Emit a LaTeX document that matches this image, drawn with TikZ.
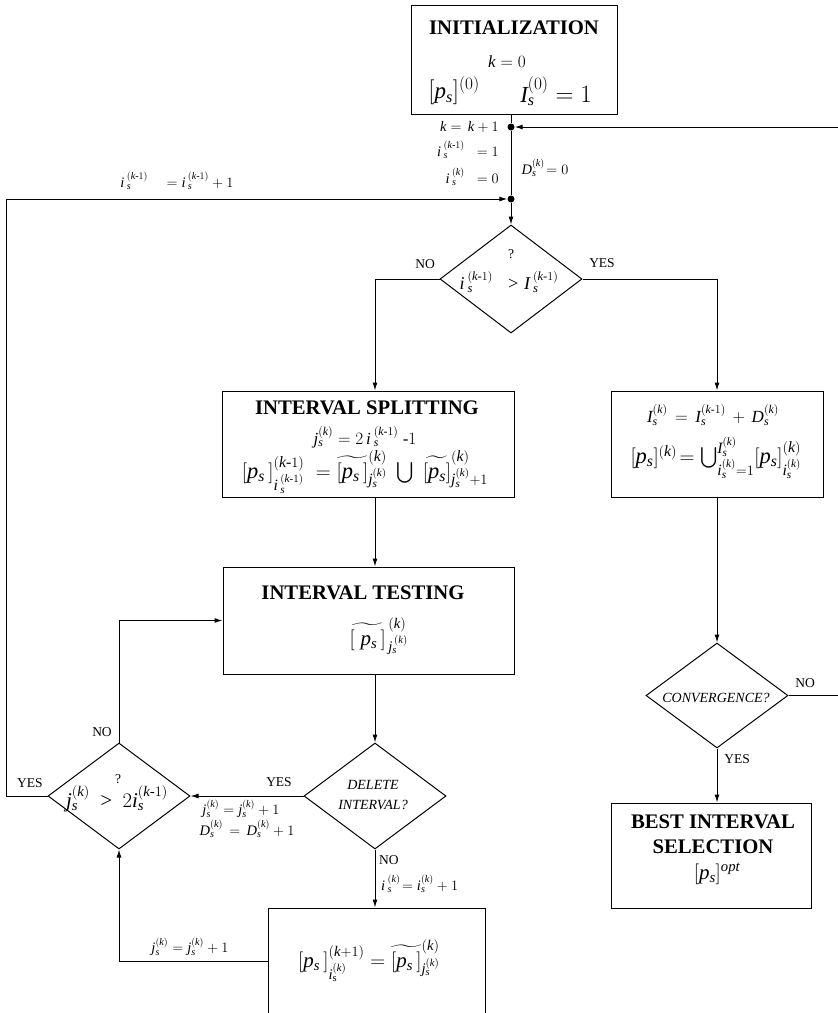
\documentclass[tikz,border=0pt]{standalone}
\usepackage{amsmath}
\usepackage{fontspec}
\setmainfont{Liberation Serif}[NFSSFamily=libser]
\DeclareSymbolFont{letters}{TU}{libser}{m}{it}
\DeclareSymbolFont{operators}{TU}{libser}{m}{n}
\usetikzlibrary{arrows.meta,shapes.geometric}
\newcommand{\km}{(k\text{-}1)}
\begin{document}
\begin{tikzpicture}[x=1pt,y=-1pt,
  box/.style={draw,line width=1pt,inner sep=0pt,rectangle},
  dia/.style={draw,line width=1pt,diamond,inner sep=0pt},
  conn/.style={line width=1pt},
  arr/.style={line width=1pt,-{Latex[length=8pt,width=5pt]}},
  ttl/.style={font=\fontsize{20.7}{25}\selectfont\bfseries,inner sep=0pt,align=center},
  yn/.style={font=\fontsize{13.5}{15}\selectfont,inner sep=0pt},
  lbl/.style={font=\fontsize{14.5}{16}\selectfont,inner sep=0pt},
  fml/.style={font=\fontsize{21}{24}\selectfont,inner sep=0pt},
  fmb/.style={font=\fontsize{22.5}{25}\selectfont,inner sep=0pt},
  fms/.style={font=\fontsize{17}{19}\selectfont,inner sep=0pt},
  itl/.style={font=\fontsize{14}{20}\selectfont\itshape,inner sep=0pt,align=center},
  dot/.style={circle,fill,inner sep=0pt,minimum size=7pt}]
\clip (0,0) rectangle (838,1013);
% boxes
\node[box,minimum width=206pt,minimum height=109pt] (init) at (514,59.5) {};
\node[box,minimum width=292pt,minimum height=106pt] (split) at (368,444) {};
\node[box,minimum width=291pt,minimum height=107pt] (test) at (368.5,620.5) {};
\node[box,minimum width=217pt,minimum height=130pt] (bot) at (376.5,973) {};
\node[box,minimum width=212pt,minimum height=106pt] (rbox) at (717,444) {};
\node[box,minimum width=200pt,minimum height=105pt] (best) at (711,855.5) {};
% diamonds
\node[dia,minimum width=142pt,minimum height=108pt] (q1) at (511,279) {};
\node[dia,minimum width=142pt,minimum height=106pt] (del) at (375,796) {};
\node[dia,minimum width=142pt,minimum height=106pt] (q2) at (119,796) {};
\node[dia,minimum width=142pt,minimum height=105pt] (conv) at (717,695.5) {};
% dots and coordinates
\node[dot] (d1) at (511,127) {};
\node[dot] (d2) at (511,199) {};
\coordinate (colL) at (375,0);
\coordinate (rr) at (860,695.5);
\coordinate (r1) at (860,127);
\coordinate (lx) at (6,0);
% texts
\node[ttl] (tInit) at (514,28) {INITIALIZATION};
\node[fms] (tK0) at (507,62) {$k = 0$};
\node[font=\fontsize{23}{25}\selectfont,inner sep=0pt] (tP0) at (454,91) {$[p_s]^{(0)}$};
\node[font=\fontsize{23}{25}\selectfont,inner sep=0pt] (tI0) at (556,91) {$I_s^{(0)} = 1$};
\node[lbl,anchor=east] (tKK) at (499,127) {$k = \,k + 1$};
\node[lbl,anchor=east] (tIa) at (499,150) {$i\,{}_s^{\km} \;\; = 1$};
\node[lbl,anchor=east] (tIb) at (499,177) {$i\,{}_s^{(k)} \;\; = 0$};
\node[lbl] (tD0) at (545,168) {$D_s^{(k)}\!= 0$};
\node[lbl] (tInc) at (177,181) {$i\,{}_s^{\km} \quad =i\,{}_s^{\km} + 1$};
\node[yn] (tQ1) at (511,254) {?};
\node[font=\fontsize{18}{20}\selectfont,inner sep=0pt] (tC1) at (509,282) {$i\,{}_s^{\km} \;\; > I\,{}_s^{\km}$};
\node[yn] (tNo1) at (425,264) {NO};
\node[yn] (tYes1) at (602,263) {YES};
\node[ttl] (tSplit) at (367,408) {INTERVAL SPLITTING};
\node[fms] (tS2) at (365,437) {$j_s^{(k)} = 2\,i\,{}_s^{\km}\ \text{-}1$};
\node[fmb] (tS3) at (365,472) {$[p_s\,]^{\km}_{i\,{}_s^{\km}} \;=\widetilde{[p_s\,]}^{(k)}_{j_s^{(k)}} \;\textstyle\bigcup\; \widetilde{[p_s]}^{(k)}_{j_s^{(k)}+1}$};
\node[fms] (tR1) at (713,415) {$I_s^{(k)} \,=\, I_s^{(k\text{-}1)} \,+\, D_s^{(k)}$};
\node[fmb] (tR2) at (716,458) {$[p_s]^{(k)}\!= \textstyle\bigcup_{i_s^{(k)}=1}^{I_s^{(k)}}[p_s]^{(k)}_{i_s^{(k)}}$};
\node[ttl] (tTest) at (363,593) {INTERVAL TESTING};
\node[fml] (tT2) at (379,636) {$\widetilde{[\;p_s\,]}^{\,(k)}_{\,j_s^{\,(k)}}$};
\node[itl] (tDel) at (373,795) {DELETE\\INTERVAL?};
\node[yn,anchor=west] (tNo3) at (379,860) {NO};
\node[lbl,anchor=west] (tIi) at (381,884) {$i\,{}_s^{(k)}\!= i_s^{(k)} + 1$};
\node[fml] (tB) at (369,961) {$[p_s\,]^{(k+1)}_{i_{\mathrm{s}}^{(k)}} = \widetilde{[p_s\,]}^{(k)}_{j_s^{(k)}}$};
\node[lbl] (tJj2) at (190,947) {$j_s^{(k)} = j_s^{(k)} + 1$};
\node[yn] (tQ2) at (118,779) {?};
\node[fml] (tC2) at (117,799) {$j_s^{(k)} \,>\, 2i_s^{(k\text{-}1)}$};
\node[yn] (tYes2) at (279,782) {YES};
\node[lbl] (tJj) at (241,809) {$j_s^{(k)} = j_s^{(k)} + 1$};
\node[lbl] (tDd) at (247,829) {$D_s^{(k)} \,=\, D_s^{(k)} + 1$};
\node[yn] (tYes3) at (30,783) {YES};
\node[yn] (tNo2) at (102,732) {NO};
\node[itl] (tConv) at (716,698) {CONVERGENCE?};
\node[yn] (tNo4) at (805,683) {NO};
\node[yn] (tYes4) at (737,759) {YES};
\node[ttl] (tBest) at (713,834.5) {BEST INTERVAL\\SELECTION};
\node[fml] (tOpt) at (717,874) {$[p_s]^{opt}$};
% connectors
\draw[conn] (init.south -| d1) -- (d1);
\draw[conn] (d1) -- (d2);
\draw[arr] (d2) -- (q1.north);
\draw[arr] (conv.east) -- (rr) -- (r1) -- (d1);
\draw[arr] (q2.west) -| (lx |- d2) -- (d2);
\draw[arr] (q1.west) -| (colL |- split.north);
\draw[arr] (q1.east) -| (rbox.north);
\draw[arr] (colL |- split.south) -- (colL |- test.north);
\draw[arr] (colL |- test.south) -- (del.north);
\draw[arr] (del.south) -- (del.south |- bot.north);
\draw[arr] (del.west) -- (q2.east);
\draw[arr] (tB -| bot.west) -| (q2.south);
\draw[arr] (q2.north) |- (test.west);
\draw[arr] (rbox.south) -- (conv.north);
\draw[arr] (conv.south) -- (conv.south |- best.north);
\end{tikzpicture}
\end{document}
